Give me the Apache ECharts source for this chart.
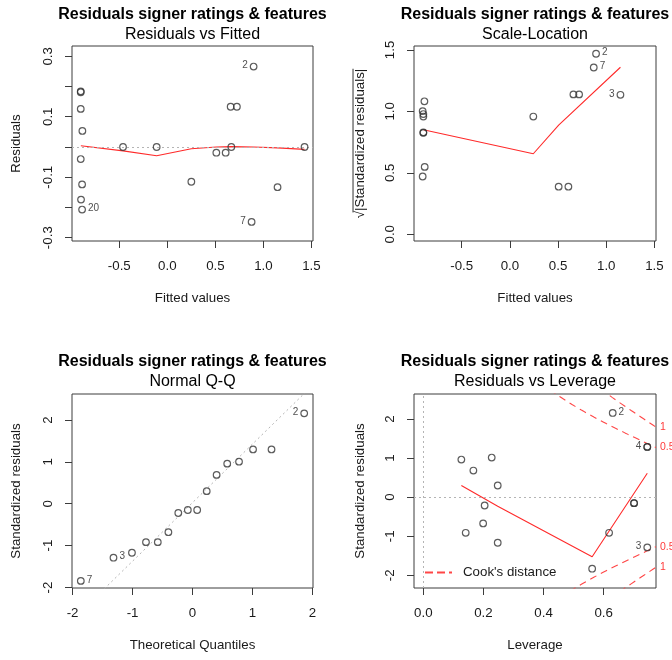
<!DOCTYPE html>
<html>
<head>
<meta charset="utf-8">
<script src="https://cdn.jsdelivr.net/npm/echarts@6/dist/echarts.min.js"></script>
<style>
  html, body { margin: 0; padding: 0; background: #ffffff; }
  #chart { width: 672px; height: 660px; }
</style>
</head>
<body>
<div id="chart"></div>
<script>
// Regression diagnostics for the signer ratings & features model (four panels)

const mainTitle = 'Residuals signer ratings & features';
const panelCaptions = ['Residuals vs Fitted', 'Scale-Location', 'Normal Q-Q', 'Residuals vs Leverage'];

// --- Residuals vs Fitted (all 20 observations) ---
const fittedValues   = [-0.901, -0.901, -0.901, -0.884, -0.901, -0.887, -0.898, -0.887, -0.461, -0.111,
                         0.250, 0.510, 0.607, 0.666, 0.659, 0.724, 0.898, 0.877, 1.147, 1.428];
const residualValues = [0.184, 0.181, 0.126, 0.053, -0.040, -0.124, -0.174, -0.207, 0.000, 0.000,
                        -0.115, -0.019, -0.019, 0.000, 0.133, 0.133, 0.266, -0.248, -0.133, 0.000];
const fittedIdIndex = [7, 16, 17];
const fittedIdText  = ['20', '2', '7'];
const fittedSmoothX = [-0.900, -0.461, -0.111, 0.250, 0.510, 0.666, 0.898, 1.147, 1.428];
const fittedSmoothY = [0.004, -0.013, -0.029, -0.006, 0.000, 0.001, 0.000, -0.003, -0.008];
const fittedTicks   = [-0.5, 0.0, 0.5, 1.0, 1.5];
const residualTicks = [-0.3, -0.2, -0.1, 0.0, 0.1, 0.2, 0.3];
const residualTickLabels = [-0.3, -0.1, 0.1, 0.3];

// --- Scale-Location (16 observations with leverage < 1) ---
const slFitted    = [-0.887, -0.905, -0.898, -0.898, -0.898, -0.898, -0.884, -0.905,
                     0.243, 0.506, 0.607, 0.659, 0.718, 0.894, 0.870, 1.147];
const slRootResid = [1.082, 1.002, 0.978, 0.958, 0.829, 0.825, 0.548, 0.470,
                     0.958, 0.387, 0.387, 1.138, 1.138, 1.469, 1.357, 1.135];
const slIdIndex = [13, 14, 15];
const slIdText  = ['2', '7', '3'];
const slSmoothX = [-0.898, 0.243, 0.506, 1.147];
const slSmoothY = [0.851, 0.655, 0.888, 1.359];
const slTicks   = [0.0, 0.5, 1.0, 1.5];

// --- Normal Q-Q ---
const qqTheoretical = [-1.863, -1.318, -1.010, -0.776, -0.579, -0.402, -0.237, -0.078,
                       0.078, 0.237, 0.402, 0.579, 0.776, 1.010, 1.318, 1.863];
const qqStdResid    = [-1.842, -1.289, -1.170, -0.917, -0.917, -0.680, -0.221, -0.150,
                       -0.150, 0.300, 0.688, 0.957, 1.004, 1.296, 1.296, 2.158];
const qqIdIndex = [0, 1, 15];
const qqIdText  = ['7', '3', '2'];
const qqTicks   = [-2, -1, 0, 1, 2];

// --- Residuals vs Leverage ---
const levValues    = [0.1265, 0.1665, 0.2275, 0.2475, 0.204, 0.199, 0.141, 0.2475,
                      0.5616, 0.618, 0.701, 0.701, 0.745, 0.745, 0.745, 0.630];
const levStdResid  = [0.962, 0.681, 1.013, 0.298, -0.213, -0.672, -0.911, -1.166,
                      -1.830, -0.911, -0.153, -0.153, 1.285, 1.285, -1.285, 2.153];
const levIdIndex = [15, 12, 14];
const levIdText  = ['2', '4', '3'];
const levSmoothX = [0.1265, 0.2475, 0.5616, 0.745];
const levSmoothY = [0.298, -0.230, -1.523, 0.613];
const levTicksX  = [0.0, 0.2, 0.4, 0.6];
const levTicksY  = [-2, -1, 0, 1, 2];
const cookLevels = [0.5, 1];
const modelParams = 11;

// ------------------------------------------------------------------
const FONT = '"Liberation Sans", Arial, Helvetica, sans-serif';
const INK = '#1a1a1a';
const POINT = '#333333';
const RED = '#ff2a2a';
const COOK_RED = '#ff4646';
const GREY_DOT = '#b4b4b4';
const AXIS_FONT_SIZE = 13.3;

const boxes = [
  { left: 72,  top: 46,  width: 241, height: 195 },
  { left: 414, top: 46,  width: 242, height: 195 },
  { left: 72,  top: 394, width: 241, height: 194 },
  { left: 414, top: 394, width: 242, height: 194 }
];
const xRanges = [[-0.992, 1.516], [-0.995, 1.516], [-2.01, 2.01], [-0.031, 0.774]];
const yRanges = [[-0.311, 0.334], [-0.055, 1.532], [-2.012, 2.62], [-2.323, 2.638]];
const xNames = ['Fitted values', 'Fitted values', 'Theoretical Quantiles', 'Leverage'];
const yNames = ['Residuals', '\u221A|Standardized residuals|', 'Standardized residuals', 'Standardized residuals'];
const yNameGaps = [49, 47.5, 49, 47.5];

const fmt1 = v => v.toFixed(1);
const fmt0 = v => String(Math.round(v));

const xTickSets = [
  { ticks: fittedTicks, labels: fittedTicks, f: fmt1 },
  { ticks: fittedTicks, labels: fittedTicks, f: fmt1 },
  { ticks: qqTicks, labels: qqTicks, f: fmt0 },
  { ticks: levTicksX, labels: levTicksX, f: fmt1 }
];
const yTickSets = [
  { ticks: residualTicks, labels: residualTickLabels, f: fmt1 },
  { ticks: slTicks, labels: slTicks, f: fmt1 },
  { ticks: qqTicks, labels: qqTicks, f: fmt0 },
  { ticks: levTicksY, labels: levTicksY, f: fmt0 }
];

const grids = boxes.map(b => Object.assign({
  show: true, borderColor: '#3c3c3c', borderWidth: 1, backgroundColor: 'transparent', containLabel: false
}, b));

const xAxes = boxes.map((b, i) => ({
  type: 'value', gridIndex: i, position: 'bottom', min: xRanges[i][0], max: xRanges[i][1],
  axisLine: { show: false, onZero: false },
  splitLine: { show: false },
  axisTick: { show: true, inside: false, length: 7, customValues: xTickSets[i].ticks,
              lineStyle: { color: '#3c3c3c', width: 1 } },
  axisLabel: { show: true, customValues: xTickSets[i].labels, formatter: xTickSets[i].f,
               margin: 19, fontSize: AXIS_FONT_SIZE, color: INK, fontFamily: FONT },
  name: xNames[i], nameLocation: 'middle', nameGap: 51,
  nameTextStyle: { fontSize: AXIS_FONT_SIZE, color: INK, fontFamily: FONT }
}));

const yAxes = boxes.map((b, i) => ({
  type: 'value', gridIndex: i, position: 'left', min: yRanges[i][0], max: yRanges[i][1],
  axisLine: { show: false, onZero: false },
  splitLine: { show: false },
  axisTick: { show: true, inside: false, length: 7, customValues: yTickSets[i].ticks,
              lineStyle: { color: '#3c3c3c', width: 1 } },
  axisLabel: { show: true, customValues: yTickSets[i].labels, formatter: yTickSets[i].f,
               rotate: 90, margin: 17, fontSize: AXIS_FONT_SIZE, color: INK, fontFamily: FONT },
  name: yNames[i], nameLocation: 'middle', nameGap: yNameGaps[i],
  nameTextStyle: { fontSize: AXIS_FONT_SIZE, color: INK, fontFamily: FONT }
}));

// Panel titles: bold main title above a plain caption, centred on each plot box
const titles = boxes.map((b, i) => ({
  text: mainTitle, subtext: panelCaptions[i],
  left: b.left + b.width / 2, top: i < 2 ? 6 : 353,
  textAlign: 'center', textVerticalAlign: 'top', padding: 0, itemGap: i < 2 ? 2 : 1.5,
  textStyle: { fontSize: 16, fontWeight: 'bold', color: '#000', fontFamily: FONT, lineHeight: 18 },
  subtextStyle: { fontSize: 16, color: '#000', fontFamily: FONT, lineHeight: 18 }
}));

// Observation points; the flagged ones carry their id, placed away from the centre of the flagged set
function pointSeries(gi, xs, ys, idIndex, idText) {
  const flaggedX = idIndex.map(k => xs[k]);
  const mid = (Math.min(...flaggedX) + Math.max(...flaggedX)) / 2;
  const data = xs.map((x, k) => {
    const j = idIndex.indexOf(k);
    if (j < 0) return [x, ys[k]];
    return {
      value: [x, ys[k]],
      label: { show: true, formatter: idText[j], position: x > mid ? 'left' : 'right', offset: [0, -1] }
    };
  });
  return {
    type: 'scatter', xAxisIndex: gi, yAxisIndex: gi, data, silent: true, z: 5,
    symbol: 'circle', symbolSize: 6.6,
    itemStyle: { color: 'rgba(0,0,0,0)', borderColor: POINT, borderWidth: 1.2 },
    label: { show: false, fontSize: 10, color: '#222', fontFamily: FONT, distance: 2 }
  };
}

function lineSeries(gi, data, lineStyle, extra) {
  return Object.assign({
    type: 'line', xAxisIndex: gi, yAxisIndex: gi, data, symbol: 'none', showSymbol: false,
    silent: true, clip: true, z: 3, lineStyle
  }, extra || {});
}

const zip = (xs, ys) => xs.map((x, k) => [x, ys[k]]);
const dotted = { color: GREY_DOT, width: 1, type: [2, 3] };
const smooth = { color: RED, width: 1.1 };

// Reference line through the sample quartiles of the standardized residuals
function quantile7(sorted, p) {
  const h = (sorted.length - 1) * p;
  const lo = Math.floor(h);
  const hi = Math.min(lo + 1, sorted.length - 1);
  return sorted[lo] + (h - lo) * (sorted[hi] - sorted[lo]);
}
const qSorted = qqStdResid.slice().sort((a, b) => a - b);
const q1 = quantile7(qSorted, 0.25), q3 = quantile7(qSorted, 0.75);
const zQ = 0.6744897501960817;
const qqSlope = (q3 - q1) / (2 * zQ);
const qqIntercept = q1 + qqSlope * zQ;
const qqLine = xRanges[2].map(x => [x, qqIntercept + qqSlope * x]);

// Cook's distance contours: r = +/- sqrt(D * p * (1 - h) / h)
function cookCurve(level, sign) {
  const hEnd = xRanges[3][1];
  const hStart = 0.05;
  const pts = [];
  for (let k = 0; k <= 140; k++) {
    const h = hStart + (hEnd - hStart) * k / 140;
    pts.push([h, sign * Math.sqrt(level * modelParams * (1 - h) / h)]);
  }
  return pts;
}

const series = [
  // Residuals vs Fitted
  lineSeries(0, [], dotted, { markLine: { silent: true, symbol: ['none', 'none'], label: { show: false },
    lineStyle: dotted, data: [{ yAxis: 0 }], animation: false } }),
  lineSeries(0, zip(fittedSmoothX, fittedSmoothY), smooth),
  pointSeries(0, fittedValues, residualValues, fittedIdIndex, fittedIdText),
  // Scale-Location
  lineSeries(1, zip(slSmoothX, slSmoothY), smooth),
  pointSeries(1, slFitted, slRootResid, slIdIndex, slIdText),
  // Normal Q-Q
  lineSeries(2, qqLine, dotted),
  pointSeries(2, qqTheoretical, qqStdResid, qqIdIndex, qqIdText),
  // Residuals vs Leverage
  lineSeries(3, [], dotted, { markLine: { silent: true, symbol: ['none', 'none'], label: { show: false },
    lineStyle: dotted, data: [{ yAxis: 0 }, { xAxis: 0 }], animation: false } }),
  lineSeries(3, zip(levSmoothX, levSmoothY), smooth),
  pointSeries(3, levValues, levStdResid, levIdIndex, levIdText)
];

cookLevels.forEach(level => {
  [1, -1].forEach(sign => {
    series.push(lineSeries(3, cookCurve(level, sign), { color: COOK_RED, width: 1.1, type: [7, 5] }, {
      name: "Cook's distance", z: 2,
      itemStyle: { color: COOK_RED },
      endLabel: { show: true, formatter: String(level), color: '#ff3a3a', fontSize: 10.5,
                  fontFamily: FONT, distance: 4 }
    }));
  });
});

// Overbar of the square root in the Scale-Location axis title
function radicalBar() {
  const ctx = document.createElement('canvas').getContext('2d');
  ctx.font = AXIS_FONT_SIZE + 'px ' + FONT;
  const full = ctx.measureText(yNames[1]).width;
  const root = ctx.measureText('\u221A').width;
  const b = boxes[1];
  const cy = b.top + b.height / 2;
  const cx = b.left - yNameGaps[1] - AXIS_FONT_SIZE * 0.6 - 5.5;
  return {
    type: 'line', silent: true, z: 10,
    shape: { x1: cx, y1: cy + full / 2 - root + 1.5, x2: cx, y2: cy - full / 2 },
    style: { stroke: INK, lineWidth: 0.9 }
  };
}

const option = {
  animation: false,
  backgroundColor: '#ffffff',
  title: titles,
  grid: grids,
  xAxis: xAxes,
  yAxis: yAxes,
  legend: {
    left: 425, top: 566, padding: 0, itemWidth: 27, itemHeight: 2, selectedMode: false,
    data: [{ name: "Cook's distance", icon: 'path://M0,0h8v2h-8zM12,0h8v2h-8zM24,0h3v2h-3z' }],
    itemStyle: { color: COOK_RED },
    textStyle: { fontSize: AXIS_FONT_SIZE, color: INK, fontFamily: FONT, padding: [0, 0, 0, 6] }
  },
  graphic: [radicalBar()],
  series
};

const chart = echarts.init(document.getElementById('chart'), null, { renderer: 'canvas' });
chart.setOption(option);
</script>
</body>
</html>
